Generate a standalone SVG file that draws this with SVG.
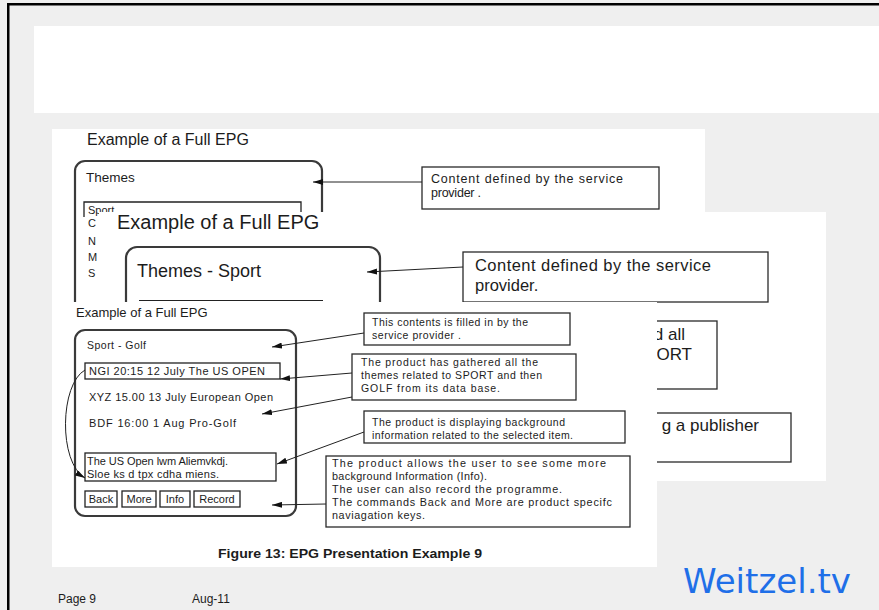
<svg xmlns="http://www.w3.org/2000/svg" width="879" height="610" viewBox="0 0 879 610">
<defs>
<style>
.t{font-family:"Liberation Sans",Arial,sans-serif;fill:#1c1c1c}
.pane{fill:#fff}
.scr{fill:#fff;stroke:#3a3a3a;stroke-width:2.2}
.box{fill:#fff;stroke:#2a2a2a;stroke-width:1.3}
.sel{fill:none;stroke:#222;stroke-width:1.3}
.c{fill:none;stroke:#222;stroke-width:1}
</style>
<marker id="ah" viewBox="0 0 10 6" refX="10" refY="3" markerWidth="10" markerHeight="6" orient="auto" markerUnits="userSpaceOnUse">
<path d="M0,0 L10,3 L0,6 z" fill="#111"/>
</marker>
</defs>
<rect x="0" y="0" width="879" height="610" fill="#efefef"/>
<rect x="7" y="3" width="872" height="2.5" fill="#000"/>
<rect x="7" y="3" width="2.5" height="607" fill="#000"/>
<rect x="34" y="26" width="845" height="87" fill="#fff"/>

<g id="panel1">
<rect class="pane" x="52" y="129" width="653" height="190"/>
<text class="t" x="87" y="145" font-size="16">Example of a Full EPG</text>
<rect class="scr" x="75" y="161" width="247" height="170" rx="10"/>
<text class="t" x="86" y="182" font-size="13.5">Themes</text>
<path class="sel" d="M84 217 V202 H301 V215"/>
<text class="t" x="88" y="214" font-size="11">Sport</text>
<text class="t" x="88" y="227" font-size="11">C</text>
<text class="t" x="88" y="245" font-size="11">N</text>
<text class="t" x="88" y="261" font-size="11">M</text>
<text class="t" x="88" y="277" font-size="11">S</text>
<rect class="box" x="422" y="167" width="237" height="42"/>
<text class="t" x="431" y="183" font-size="12.5" textLength="192">Content defined by the service</text>
<text class="t" x="431" y="197" font-size="12.5" textLength="50">provider .</text>
</g>

<g id="panel2">
<rect class="pane" x="99" y="212" width="727" height="269"/>
<text class="t" x="117" y="229" font-size="20">Example of a Full EPG</text>
<rect class="scr" x="126" y="247" width="254" height="100" rx="11"/>
<text class="t" x="137" y="277" font-size="18">Themes - Sport</text>
<line x1="139" y1="300.5" x2="323" y2="300.5" stroke="#222" stroke-width="1.2"/>
<rect class="box" x="463" y="252" width="305" height="50"/>
<text class="t" x="475" y="271" font-size="16.5" textLength="236">Content defined by the service</text>
<text class="t" x="475" y="291" font-size="16.5">provider.</text>
<rect class="box" x="600" y="321" width="117" height="68"/>
<text class="t" x="685" y="340" font-size="17" text-anchor="end">d all</text>
<text class="t" x="692" y="360" font-size="17" text-anchor="end">ORT</text>
<rect class="box" x="600" y="413" width="191" height="49"/>
<text class="t" x="759" y="431" font-size="17" text-anchor="end">g a publisher</text>
</g>

<g id="panel3">
<rect class="pane" x="52" y="302" width="605" height="265"/>
<text class="t" x="76" y="317" font-size="13">Example of a Full EPG</text>
<rect class="scr" x="75" y="330" width="221" height="186" rx="10"/>
<text class="t" x="87" y="349" font-size="10.5" textLength="59">Sport - Golf</text>
<rect class="sel" x="85" y="363" width="195" height="16"/>
<text class="t" x="89" y="375" font-size="11" textLength="176">NGI  20:15 12 July The US OPEN</text>
<text class="t" x="89" y="401" font-size="11" textLength="184">XYZ  15.00 13 July European Open</text>
<text class="t" x="89" y="427" font-size="11" textLength="147">BDF  16:00  1 Aug  Pro-Golf</text>
<rect class="sel" x="85" y="453" width="191" height="28"/>
<text class="t" x="87" y="465" font-size="11" textLength="141">The US Open lwm Aliemvkdj.</text>
<text class="t" x="87" y="478" font-size="11" textLength="132">Sloe ks d tpx cdha miens.</text>
<rect class="sel" x="85" y="491" width="32" height="16"/>
<text class="t" x="101" y="503" font-size="11" text-anchor="middle">Back</text>
<rect class="sel" x="122" y="491" width="34" height="16"/>
<text class="t" x="139" y="503" font-size="11" text-anchor="middle">More</text>
<rect class="sel" x="160" y="491" width="30" height="16"/>
<text class="t" x="175" y="503" font-size="11" text-anchor="middle">Info</text>
<rect class="sel" x="194" y="491" width="46" height="16"/>
<text class="t" x="217" y="503" font-size="11" text-anchor="middle">Record</text>

<rect class="box" x="364" y="313" width="206" height="32"/>
<text class="t" x="372" y="326" font-size="10.5" textLength="156">This contents is filled in by the</text>
<text class="t" x="372" y="339" font-size="10.5" textLength="89">service provider .</text>

<rect class="box" x="352" y="354" width="224" height="46"/>
<text class="t" x="361" y="366" font-size="10.5" textLength="177">The product has gathered all the</text>
<text class="t" x="361" y="379" font-size="10.5" textLength="181">themes  related to SPORT and then</text>
<text class="t" x="361" y="392" font-size="10.5" textLength="139">GOLF  from  its data base.</text>

<rect class="box" x="364" y="411" width="261" height="32"/>
<text class="t" x="372" y="426" font-size="10.5" textLength="193">The product is displaying background</text>
<text class="t" x="372" y="439" font-size="10.5" textLength="201">information related to the selected item.</text>

<rect class="box" x="326" y="456" width="304" height="71"/>
<text class="t" x="332" y="467" font-size="10.8" textLength="274">The product allows the user to see some more</text>
<text class="t" x="332" y="480" font-size="10.8" textLength="155">background Information (Info).</text>
<text class="t" x="332" y="493" font-size="10.8" textLength="230">The user can also record the programme.</text>
<text class="t" x="332" y="506" font-size="10.8" textLength="280">The commands Back and More are product specifc</text>
<text class="t" x="332" y="519" font-size="10.8" textLength="93">naviagation keys.</text>

<text class="t" x="350" y="558" font-size="12.5" font-weight="bold" text-anchor="middle" textLength="264" lengthAdjust="spacingAndGlyphs">Figure 13: EPG Presentation Example 9</text>
</g>

<g id="connectors">
<line class="c" x1="422" y1="182" x2="313" y2="182" marker-end="url(#ah)"/>
<line class="c" x1="463" y1="267" x2="367" y2="272" marker-end="url(#ah)"/>
<line class="c" x1="364" y1="333" x2="272" y2="347" marker-end="url(#ah)"/>
<line class="c" x1="352" y1="373" x2="280" y2="379" marker-end="url(#ah)"/>
<line class="c" x1="352" y1="397" x2="262" y2="414" marker-end="url(#ah)"/>
<line class="c" x1="364" y1="432" x2="277" y2="464" marker-end="url(#ah)"/>
<line class="c" x1="326" y1="504" x2="272" y2="505" marker-end="url(#ah)"/>
<path class="c" d="M85 370 C60 384, 58 462, 85 478" marker-end="url(#ah)"/>
</g>

<g id="footer">
<text class="t" x="58" y="603" font-size="12">Page 9</text>
<text class="t" x="192" y="603" font-size="12">Aug-11</text>
<text x="683" y="593" font-size="34" fill="#1f6fe8" textLength="168" lengthAdjust="spacingAndGlyphs" style="font-family:'DejaVu Sans',sans-serif">Weitzel.tv</text>
</g>
</svg>
